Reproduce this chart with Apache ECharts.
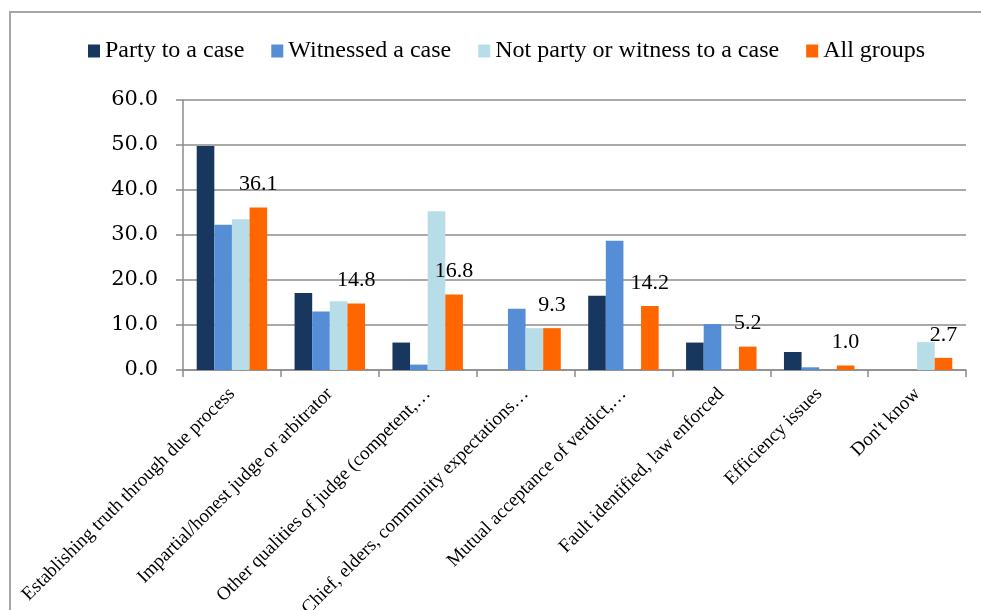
<!DOCTYPE html>
<html>
<head>
<meta charset="utf-8">
<script src="https://cdn.jsdelivr.net/npm/echarts@6/dist/echarts.min.js"></script>
<style>
  html, body { margin: 0; padding: 0; background: #ffffff; }
  #chart { width: 981px; height: 610px; }
</style>
</head>
<body>
<div id="chart"></div>
<script>
const categories = [
  "Establishing truth through due process",
  "Impartial/honest judge or arbitrator",
  "Other qualities of judge (competent,\u2026",
  "Chief, elders, community expectations\u2026",
  "Mutual acceptance of verdict,\u2026",
  "Fault identified, law enforced",
  "Efficiency issues",
  "Don't know"
];
const seriesNames = ["Party to a case", "Witnessed a case", "Not party or witness to a case", "All groups"];
const partyToCase = [49.8, 17.1, 6.1, null, 16.5, 6.1, 4.0, null];
const witnessedCase = [32.3, 13.0, 1.2, 13.6, 28.7, 10.2, 0.6, null];
const notPartyOrWitness = [33.5, 15.3, 35.3, 9.3, null, null, null, 6.2];
const allGroups = [36.1, 14.8, 16.8, 9.3, 14.2, 5.2, 1.0, 2.7];
const yTicks = { min: 0, max: 60, interval: 10 };

const colors = ["#17375E", "#558ED5", "#B7DEE8", "#FF6600"];
const serif = "'Liberation Serif', 'Times New Roman', serif";
const toData = arr => arr.map(v => (v === null ? '-' : v));
const values = [partyToCase, witnessedCase, notPartyOrWitness, allGroups];

const chart = echarts.init(document.getElementById('chart'), null, { renderer: 'canvas' });
const series = seriesNames.map((name, i) => ({
  name: name,
  type: 'bar',
  data: toData(values[i]),
  barGap: '0%',
  barCategoryGap: '28%',
  itemStyle: { color: colors[i] },
  label: i === 3 ? {
    show: true,
    position: 'top',
    distance: 12,
    fontFamily: serif,
    fontSize: 22,
    color: '#000',
    formatter: p => Number(p.value).toFixed(1)
  } : { show: false },
  emphasis: { disabled: true },
  animation: false
}));

chart.setOption({
  animation: false,
  backgroundColor: '#ffffff',
  graphic: [{
    type: 'rect',
    shape: { x: 10, y: 12, width: 1000, height: 700 },
    style: { fill: 'none', stroke: '#A6A6A6', lineWidth: 2 },
    silent: true,
    z: -1
  }],
  legend: {
    data: seriesNames,
    left: 83,
    top: 34,
    icon: 'rect',
    itemWidth: 12,
    itemHeight: 13,
    itemGap: 27,
    textStyle: { fontFamily: serif, fontSize: 24, color: '#000' }
  },
  grid: { left: 183, right: 15, top: 100, bottom: 240, containLabel: false, outerBoundsMode: 'none' },
  xAxis: {
    type: 'category',
    data: categories,
    axisLine: { show: true, lineStyle: { color: '#8C8C8C', width: 1.5 } },
    axisTick: { show: true, length: 7, lineStyle: { color: '#8C8C8C', width: 1.5 } },
    axisLabel: {
      interval: 0,
      rotate: 45,
      margin: 21,
      fontFamily: serif,
      fontSize: 19,
      color: '#000'
    },
    splitLine: { show: false }
  },
  yAxis: {
    type: 'value',
    min: yTicks.min,
    max: yTicks.max,
    interval: yTicks.interval,
    axisLine: { show: true, lineStyle: { color: '#8C8C8C', width: 1.5 } },
    axisTick: { show: true, length: 7, lineStyle: { color: '#8C8C8C', width: 1.5 } },
    axisLabel: {
      margin: 25,
      fontFamily: "'DejaVu Serif', serif",
      fontSize: 21,
      color: '#000',
      formatter: v => v.toFixed(1)
    },
    splitLine: { show: true, lineStyle: { color: '#8C8C8C', width: 1.5 } }
  },
  series: series
});
</script>
</body>
</html>
